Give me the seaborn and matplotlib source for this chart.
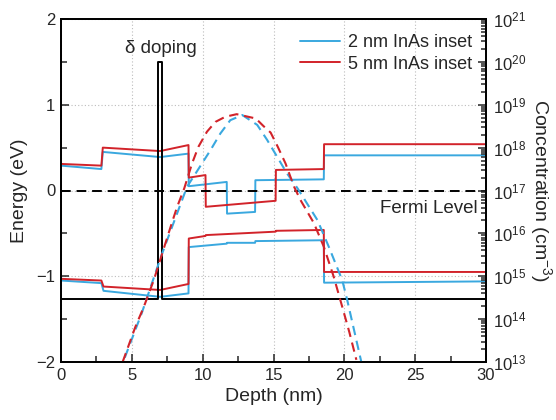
import numpy as np
import pandas as pd
import matplotlib
matplotlib.use("Agg")
import matplotlib.pyplot as plt
from matplotlib.ticker import MultipleLocator, LogLocator, NullFormatter
import seaborn as sns

# ---- band edges (eV) vs depth (nm) ----
cb_2nm_depth = [0, 0, 2.85, 2.95, 7.0, 9.0, 9.02, 11.7, 11.72, 13.7, 13.72, 18.55, 18.57, 30]
cb_2nm_energy = [2.5, 0.29, 0.25, 0.45, 0.39, 0.43, 0.05, 0.10, -0.27, -0.25, 0.12, 0.13, 0.41, 0.41]
vb_2nm_depth = [0, 0, 2.85, 3.0, 7.0, 9.0, 9.02, 11.7, 11.72, 13.7, 13.72, 18.55, 18.57, 30]
vb_2nm_energy = [2.5, -1.05, -1.08, -1.17, -1.24, -1.20, -0.66, -0.62, -0.61, -0.61, -0.59, -0.58, -1.075, -1.06]

cb_5nm_depth = [0, 0, 2.85, 2.95, 7.0, 9.0, 9.02, 10.2, 10.22, 15.15, 15.17, 18.55, 18.57, 30]
cb_5nm_energy = [2.5, 0.31, 0.29, 0.50, 0.46, 0.53, 0.15, 0.18, -0.19, -0.12, 0.24, 0.25, 0.54, 0.54]
vb_5nm_depth = [0, 0, 2.85, 3.0, 7.0, 9.0, 9.02, 10.2, 10.22, 15.15, 15.17, 18.55, 18.57, 30]
vb_5nm_energy = [2.5, -1.03, -1.05, -1.12, -1.16, -1.09, -0.56, -0.53, -0.52, -0.48, -0.47, -0.46, -0.95, -0.95]

# ---- electron concentration, log10(cm^-3) ----
n_2nm_depth = [4.5, 5.7, 7.05, 8.9, 9.35, 10.55, 11.25, 11.95, 12.8, 13.85, 14.55,
               15.25, 15.95, 16.7, 18.1, 18.9, 19.85, 20.2, 21.2]
n_2nm_log10 = [13.1, 14.14, 15.45, 17.09, 17.32, 17.94, 18.33, 18.64, 18.76, 18.53, 18.18,
               17.79, 17.4, 17.05, 16.31, 15.69, 14.91, 14.45, 13.0]
n_5nm_depth = [4.35, 5.25, 5.85, 6.55, 7.85, 8.2, 8.7, 9.25, 9.7, 10.3, 10.9, 11.6, 12.4,
               13.75, 14.3, 14.8, 15.3, 15.85, 16.45, 16.9, 17.85, 18.55, 19.25, 19.85, 20.35, 20.85]
n_5nm_log10 = [13.0, 13.82, 14.29, 14.91, 16.27, 16.62, 17.05, 17.63, 18.02, 18.37, 18.6, 18.72, 18.78,
               18.68, 18.5, 18.35, 18.02, 17.63, 17.09, 16.78, 16.24, 15.69, 14.99, 14.29, 13.7, 13.05]

# ---- delta-doping profile (cm^-3) ----
doping_depth = [0, 6.85, 6.85, 7.15, 7.15, 30]
doping_conc = [3e14, 3e14, 1e20, 1e20, 3e14, 3e14]

series_labels = ["2 nm InAs inset", "5 nm InAs inset"]
blue = "#3AA8DF"
red = "#D2232A"

sns.set_theme(style="ticks")
plt.rcParams["font.family"] = ["Liberation Sans", "DejaVu Sans"]
plt.rcParams["mathtext.default"] = "regular"
plt.rcParams["axes.linewidth"] = 1.3

fig = plt.figure(figsize=(5.56, 4.2), dpi=100)
ax = fig.add_axes([61 / 556, 58 / 420, 425 / 556, 343 / 420])

ax.set_xlim(0, 30)
ax.set_ylim(-2, 2)
ax.grid(True, which="major", color="#bdbdbd", lw=0.8, ls=(0, (1, 2)))
ax.set_axisbelow(True)

lw = 1.4
line_kws = dict(estimator=None, sort=False, ax=ax, lw=lw)
sns.lineplot(x=cb_2nm_depth, y=cb_2nm_energy, color=blue, **line_kws)
sns.lineplot(x=vb_2nm_depth, y=vb_2nm_energy, color=blue, **line_kws)
sns.lineplot(x=cb_5nm_depth, y=cb_5nm_energy, color=red, **line_kws)
sns.lineplot(x=vb_5nm_depth, y=vb_5nm_energy, color=red, **line_kws)
h_blue, h_red = ax.lines[0], ax.lines[2]

# Fermi level
ax.axhline(0, color="black", lw=1.4, ls=(0, (5, 3)))

ax.set_xlabel("Depth (nm)", fontsize=14, labelpad=4)
ax.set_ylabel("Energy (eV)", fontsize=14, labelpad=6)
ax.xaxis.set_major_locator(MultipleLocator(5))
ax.xaxis.set_minor_locator(MultipleLocator(2.5))
ax.yaxis.set_major_locator(MultipleLocator(1))
ax.yaxis.set_minor_locator(MultipleLocator(0.5))
ax.tick_params(which="both", direction="in", top=False, right=False, labelsize=12, width=1.1)
ax.tick_params(which="major", length=6, pad=4)
ax.tick_params(which="minor", length=4)
ax.xaxis.offsetText.set_visible(False)
ax.yaxis.offsetText.set_visible(False)

ax.text(29.42, -0.265, "Fermi Level", ha="right", va="baseline", fontsize=13.5)
ax.text(7.07, 1.60, "\u03b4 doping", ha="center", va="baseline", fontsize=13.5)

# concentration axis
ax2 = ax.twinx()
ax2.set_yscale("log")
ax2.set_ylim(1e13, 1e21)
ax2.set_xlim(0, 30)

df_dop = pd.DataFrame({"depth": doping_depth, "conc": doping_conc})
sns.lineplot(data=df_dop, x="depth", y="conc", color="black", lw=1.4,
             estimator=None, sort=False, ax=ax2)

dash = (0, (4.5, 2.8))
sns.lineplot(x=n_2nm_depth, y=10 ** np.array(n_2nm_log10), color=blue, lw=1.5, ls=dash,
             estimator=None, sort=False, ax=ax2)
sns.lineplot(x=n_5nm_depth, y=10 ** np.array(n_5nm_log10), color=red, lw=1.5, ls=dash,
             estimator=None, sort=False, ax=ax2)

ax2.set_xlabel("")
ax2.set_ylabel("Concentration (cm$^{-3}$)", fontsize=14, rotation=270, labelpad=20)
ax2.yaxis.set_major_locator(LogLocator(base=10, numticks=20))
ax2.yaxis.set_minor_locator(LogLocator(base=10, subs=np.arange(2, 10), numticks=20))
ax2.yaxis.set_minor_formatter(NullFormatter())
ax2.tick_params(which="both", direction="in", labelsize=12, width=1.1)
ax2.tick_params(which="major", length=6, pad=5)
ax2.tick_params(which="minor", length=3.5)
ax2.xaxis.offsetText.set_visible(False)
ax2.yaxis.offsetText.set_visible(False)

for spine in list(ax.spines.values()) + list(ax2.spines.values()):
    spine.set_linewidth(1.3)
    spine.set_color("black")

ax2.legend([h_blue, h_red], series_labels, loc="upper right",
           bbox_to_anchor=(0.968, 0.956), frameon=False, fontsize=13,
           handlelength=2.2, handletextpad=0.45, labelspacing=0.26,
           borderpad=0, borderaxespad=0)

fig.savefig("out.png", dpi=100)
